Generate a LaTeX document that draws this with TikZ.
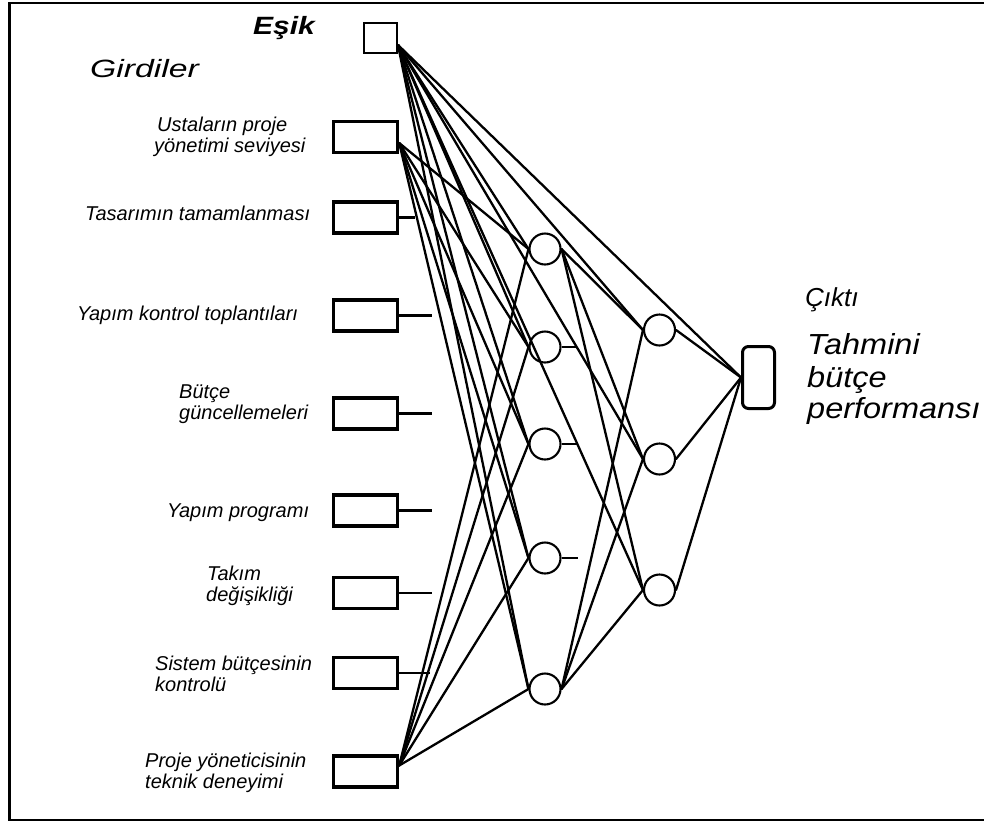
\documentclass[tikz,border=0pt]{standalone}
\usepackage{fontspec}
\setmainfont{Liberation Sans}
\newfontfamily\lblfont{Liberation Sans}
\newfontfamily\headfont[FakeStretch=1.35]{Liberation Sans}
\newfontfamily\headbfont[FakeStretch=1.2]{Liberation Sans}
\newfontfamily\outfont[FakeStretch=1.12]{Liberation Sans}
\usetikzlibrary{calc}

\tikzset{
  inbox/.style={draw, line width=3.4pt, minimum width=64pt, minimum height=31pt, inner sep=0pt},
  biasbox/.style={draw, line width=2pt, minimum width=33pt, minimum height=30pt, inner sep=0pt},
  neuron/.style={draw, circle, line width=2.1pt, minimum size=31pt, inner sep=0pt},
  outbox/.style={draw, line width=3pt, rounded corners=6pt, minimum width=32pt, minimum height=62pt, inner sep=0pt},
  conn/.style={line width=2.3pt, line cap=round},
  stub/.style={line width=2.3pt},
  lbl/.style={inner sep=0pt, anchor=base west, font=\lblfont\itshape\fontsize{20}{24}\selectfont},
  headlbl/.style={inner sep=0pt, anchor=base west, font=\headfont\itshape\fontsize{25}{30}\selectfont},
  headblbl/.style={inner sep=0pt, anchor=base west, font=\headbfont\bfseries\itshape\fontsize{25}{30}\selectfont},
  outlbl/.style={inner sep=0pt, anchor=base west, font=\outfont\itshape\fontsize{29}{35}\selectfont},
  cikilbl/.style={inner sep=0pt, anchor=base west, font=\lblfont\itshape\fontsize{26}{31}\selectfont},
  frame/.style={line width=2.6pt}
}

\begin{document}
\begin{tikzpicture}[x=1pt, y=-1pt]
\useasboundingbox (0,0) rectangle (984,823);

% outer frame, open on the right
\draw[frame] (984,3) -- (9.5,3) -- (9.5,820) -- (984,820);

% threshold unit and inputs
\node[biasbox] (esik) at (380.5,38) {};
\foreach \n/\y in {1/137, 2/217.5, 3/315.5, 4/413.5, 5/510.5, 6/593, 7/673, 8/771.5}
  \node[inbox] (in\n) at (365.5,\y) {};

% first hidden layer
\foreach \n/\y in {1/249, 2/347, 3/444, 4/558, 5/689}
  \node[neuron] (ha\n) at (545,\y) {};

% second hidden layer
\foreach \n/\y in {1/330, 2/459, 3/590}
  \node[neuron] (hb\n) at (659.5,\y) {};

% output unit
\node[outbox] (out) at (758.5,377.5) {};

% connection origins
\coordinate (esikout) at ($(esik.east)+(0,7)$);
\coordinate (in1out) at ($(in1.east)+(0,6)$);
\coordinate (in8out) at ($(in8.east)+(0,-6)$);

% threshold connections
\foreach \n in {1,...,5} \draw[conn] (esikout) -- (ha\n.west);
\foreach \n in {1,...,3} \draw[conn] (esikout) -- (hb\n.west);
\draw[conn] (esikout) -- (out.west);

% first and last input to every first-layer neuron
\foreach \n in {1,...,5} {
  \draw[conn] (in1out) -- (ha\n.west);
  \draw[conn] (in8out) -- (ha\n.west);
}

% first and last first-layer neuron to the second layer
\foreach \n in {1,...,3} {
  \draw[conn] (ha1.east) -- (hb\n.west);
  \draw[conn] (ha5.east) -- (hb\n.west);
}

% second layer to output
\foreach \n in {1,...,3} \draw[conn] (hb\n.east) -- (out.west);

% short stubs for the remaining inputs
\coordinate (s2) at (415,217.5);
\coordinate (s3) at (432,315.5);
\coordinate (s4) at (432,413.5);
\coordinate (s5) at (432,510.5);
\coordinate (s6) at (432,593);
\coordinate (s7) at (430,673);
\foreach \n in {2,...,7} \draw[stub] (in\n) -- (s\n);

% short stubs for the middle first-layer neurons
\coordinate (t2) at (577,347);
\coordinate (t3) at (577,444);
\coordinate (t4) at (578,558);
\foreach \n in {2,3,4} \draw[stub] (ha\n) -- (t\n);

% headings
\node[headblbl] (esiklbl) at (253,34) {Eşik};
\node[headlbl] (girdiler) at (90,77) {Girdiler};
\node[cikilbl] (cikti) at (805,306) {Çıktı};
\node[outlbl] (tahmin1) at (807,354) {Tahmini};
\node[outlbl] (tahmin2) at (807,387) {bütçe};
\node[outlbl] (tahmin3) at (807,418) {performansı};

% input labels
\node[lbl] (l1a) at (157,131) {Ustaların proje};
\node[lbl] (l1b) at (154,152) {yönetimi seviyesi};
\node[lbl] (l2) at (85,220) {Tasarımın tamamlanması};
\node[lbl] (l3) at (77,320) {Yapım kontrol toplantıları};
\node[lbl] (l4a) at (179,398) {Bütçe};
\node[lbl] (l4b) at (179,419) {güncellemeleri};
\node[lbl] (l5) at (167,517) {Yapım programı};
\node[lbl] (l6a) at (207,580) {Takım};
\node[lbl] (l6b) at (206,601) {değişikliği};
\node[lbl] (l7a) at (155,670) {Sistem bütçesinin};
\node[lbl] (l7b) at (155,691) {kontrolü};
\node[lbl] (l8a) at (145,767) {Proje yöneticisinin};
\node[lbl] (l8b) at (145,788) {teknik deneyimi};
\end{tikzpicture}
\end{document}
